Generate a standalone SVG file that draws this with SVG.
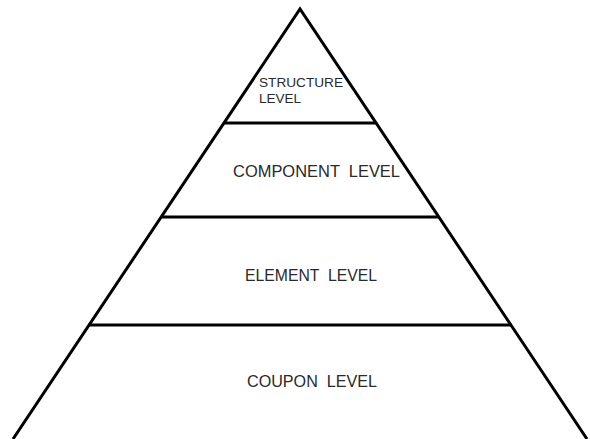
<svg xmlns="http://www.w3.org/2000/svg" width="590" height="439" viewBox="0 0 590 439">
  <style>
    .edge { stroke: #000; stroke-width: 3; fill: none; stroke-linejoin: miter; }
    .divider { stroke: #000; stroke-width: 3; }
    .label { font-family: "Liberation Sans", Arial, sans-serif; fill: #2a2a2a; font-size: 17px; white-space: pre; }
    .small { font-size: 13px; }
  </style>
  <rect width="590" height="439" fill="#fff"/>
  <!-- pyramid outline -->
  <g id="pyramid">
    <polyline class="edge" points="13,439 300,9 587,439"/>
  </g>
  <!-- level dividers -->
  <g id="connectors">
    <line class="divider" x1="224" y1="123" x2="376" y2="123"/>
    <line class="divider" x1="161" y1="217" x2="439" y2="217"/>
    <line class="divider" x1="88" y1="325" x2="512" y2="325"/>
  </g>
  <g id="structure">
    <text class="label small" x="259" y="87" textLength="84" lengthAdjust="spacingAndGlyphs">STRUCTURE</text>
    <text class="label small" x="259" y="103" textLength="42" lengthAdjust="spacingAndGlyphs">LEVEL</text>
  </g>
  <g id="component">
    <text class="label" x="233" y="177" textLength="167" lengthAdjust="spacingAndGlyphs" xml:space="preserve">COMPONENT  LEVEL</text>
  </g>
  <g id="element">
    <text class="label" x="245" y="281" textLength="132" lengthAdjust="spacingAndGlyphs" xml:space="preserve">ELEMENT  LEVEL</text>
  </g>
  <g id="coupon">
    <text class="label" x="247" y="387" textLength="130" lengthAdjust="spacingAndGlyphs" xml:space="preserve">COUPON  LEVEL</text>
  </g>
</svg>
